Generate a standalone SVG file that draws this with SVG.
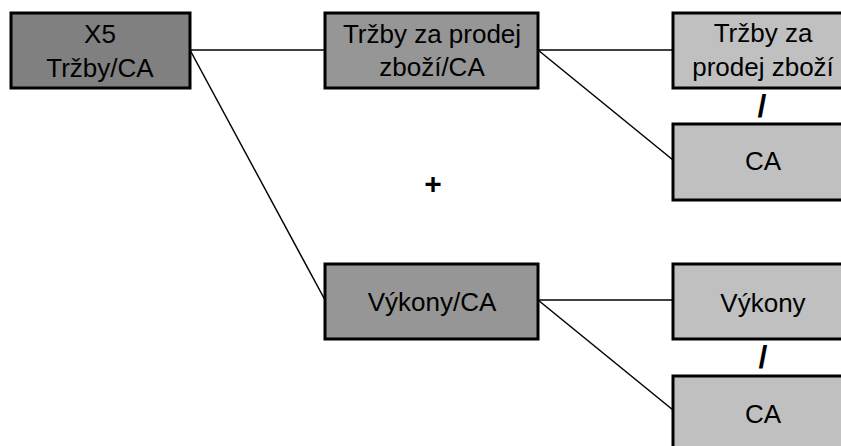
<svg xmlns="http://www.w3.org/2000/svg" width="841" height="446" viewBox="0 0 841 446">
  <style>
    .box { stroke: #000; stroke-width: 3; }
    .dark { fill: #808080; }
    .mid { fill: #969696; }
    .light { fill: #c0c0c0; }
    .lbl { font-family: "Liberation Sans", Arial, sans-serif; font-size: 26px; fill: #000; text-anchor: middle; }
    .op { font-family: "Liberation Sans", Arial, sans-serif; font-weight: bold; fill: #000; text-anchor: middle; }
    .conn { stroke: #000; stroke-width: 1.5; fill: none; }
  </style>
  <rect width="841" height="446" fill="#fff"/>
  <g id="connectors">
    <line class="conn" x1="190" y1="50" x2="325" y2="50"/>
    <line class="conn" x1="190" y1="50" x2="325" y2="300"/>
    <line class="conn" x1="538" y1="50" x2="673" y2="50"/>
    <line class="conn" x1="538" y1="50" x2="673" y2="160"/>
    <line class="conn" x1="538" y1="300" x2="673" y2="300"/>
    <line class="conn" x1="538" y1="300" x2="673" y2="410"/>
  </g>
  <g id="x5">
    <rect class="box dark" x="11" y="13" width="179" height="75"/>
    <text class="lbl" x="100" y="43">X5</text>
    <text class="lbl" x="100" y="77">Tržby/CA</text>
  </g>
  <g id="trzby-zbozi-ca">
    <rect class="box mid" x="325" y="13" width="213" height="75"/>
    <text class="lbl" x="432" y="43">Tržby za prodej</text>
    <text class="lbl" x="432" y="76">zboží/CA</text>
  </g>
  <g id="trzby-zbozi">
    <rect class="box light" x="673" y="13" width="180" height="75"/>
    <text class="lbl" x="763" y="42">Tržby za</text>
    <text class="lbl" x="763" y="76">prodej zboží</text>
  </g>
  <g id="ca-1">
    <rect class="box light" x="673" y="124" width="180" height="76"/>
    <text class="lbl" x="763" y="170">CA</text>
  </g>
  <g id="vykony-ca">
    <rect class="box mid" x="325" y="264" width="213" height="75"/>
    <text class="lbl" x="432" y="311">Výkony/CA</text>
  </g>
  <g id="vykony">
    <rect class="box light" x="673" y="264" width="180" height="75"/>
    <text class="lbl" x="763" y="312">Výkony</text>
  </g>
  <g id="ca-2">
    <rect class="box light" x="673" y="376" width="180" height="80"/>
    <text class="lbl" x="763" y="423">CA</text>
  </g>
  <text class="op" x="433" y="194" font-size="30">+</text>
  <text class="op" x="762" y="117" font-size="32">/</text>
  <text class="op" x="763" y="368" font-size="32">/</text>
</svg>
